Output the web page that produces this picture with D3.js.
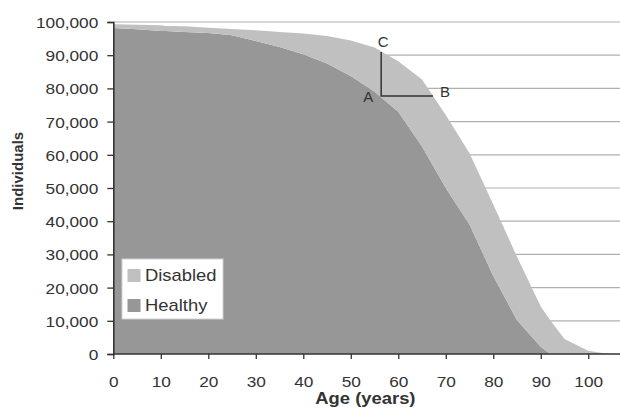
<!DOCTYPE html>
<html>
<head>
<meta charset="utf-8">
<script src="https://cdn.jsdelivr.net/npm/d3@7"></script>
<style>
  body { margin: 0; background: #fff; }
  text { font-family: "Liberation Sans", Arial, sans-serif; fill: #333; }
</style>
</head>
<body>
<div id="chart"></div>
<script>
// values
var ages     = [0, 5, 10, 11, 15, 20, 25, 30, 35, 40, 45, 50, 55, 60, 65, 70, 75, 80, 85, 90, 92, 95, 100, 103, 105];
var healthy  = [98200, 97800, 97300, 97300, 97000, 96700, 96000, 94300, 92500, 90300, 87500, 83700, 79000, 73000, 62500, 50000, 39000, 23500, 10200, 2200, 0, 0, 0, 0, 0];
var disabled = [1100, 1400, 1700, 1500, 1700, 1600, 1900, 3200, 4500, 6200, 8300, 10700, 13300, 15200, 20200, 22000, 21500, 21500, 19100, 12100, 10200, 4500, 1000, 300, 0];
var xTicks = [0, 10, 20, 30, 40, 50, 60, 70, 80, 90, 100];
var yTicks = [0, 10000, 20000, 30000, 40000, 50000, 60000, 70000, 80000, 90000, 100000];
var seriesNames = ['Healthy', 'Disabled'];
var seriesColors = { Healthy: '#979797', Disabled: '#c0c0c0' };
// annotation corner A, top C, right B (age, individuals)
var markA = [56.4, 77700];
var markC = [56.4, 91000];
var markB = [67.3, 77700];

var width = 620;
var height = 408;
var stretch = 1.15;

var xScale = d3.scaleLinear().domain([0, 107]).range([113.3, 621.5]);
var yScale = d3.scaleLinear().domain([0, 100000]).range([354, 22]);

document.addEventListener('DOMContentLoaded', function () {
    var svg = d3.select('#chart')
        .append('svg')
        .attr('width', width)
        .attr('height', height);

    drawGrid(svg);
    drawAreas(svg);
    drawAxes(svg);
    drawMarks(svg);
    drawLegend(svg);
    drawTitles(svg);
});

function drawGrid(svg) {
    svg.append('g')
        .selectAll('line')
        .data(yTicks.slice(1))
        .enter()
        .append('line')
        .attr('x1', xScale(0))
        .attr('x2', width)
        .attr('y1', function (d) { return yScale(d); })
        .attr('y2', function (d) { return yScale(d); })
        .attr('stroke', '#b0b0b0')
        .attr('stroke-width', 1.2);
}

function drawAreas(svg) {
    var rows = ages.map(function (a, i) {
        return { age: a, Healthy: healthy[i], Disabled: disabled[i] };
    });
    var stacked = d3.stack().keys(seriesNames)(rows);

    var area = d3.area()
        .x(function (d) { return xScale(d.data.age); })
        .y0(function (d) { return yScale(d[0]); })
        .y1(function (d) { return yScale(d[1]); });

    svg.append('g')
        .selectAll('path')
        .data(stacked)
        .enter()
        .append('path')
        .attr('d', area)
        .attr('fill', function (d) { return seriesColors[d.key]; });
}

function drawAxes(svg) {
    var xAxis = d3.axisBottom(xScale)
        .tickValues(xTicks)
        .tickSize(5)
        .tickPadding(17)
        .tickFormat(d3.format('d'));
    var yAxis = d3.axisLeft(yScale)
        .tickValues(yTicks)
        .tickSize(6)
        .tickFormat(d3.format(','));

    var gx = svg.append('g')
        .attr('transform', 'translate(0,' + yScale(0) + ')')
        .call(xAxis);
    gx.select('.domain').attr('d', 'M' + xScale(0) + ',0H' + width);

    var gy = svg.append('g')
        .attr('transform', 'translate(' + xScale(0) + ',0)')
        .call(yAxis);

    [gx, gy].forEach(function (g) {
        g.select('.domain').attr('stroke', '#333').attr('stroke-width', 1.6);
        g.selectAll('.tick line').attr('stroke', '#333').attr('stroke-width', 1.3);
        g.selectAll('text')
            .style('font-size', '15px')
            .attr('fill', '#333')
            .style('font-family', '"Liberation Sans", Arial, sans-serif');
    });

    gx.selectAll('.tick text')
        .attr('transform', 'scale(' + stretch + ',1)')
        .attr('x', 0);
    gy.selectAll('.tick text')
        .attr('x', 0)
        .attr('dy', '0.36em')
        .attr('transform', 'translate(-15,0) scale(' + stretch + ',1)');
}

function drawMarks(svg) {
    var g = svg.append('g');
    g.append('path')
        .attr('d', 'M' + xScale(markC[0]) + ',' + yScale(markC[1]) +
                   'V' + yScale(markA[1]) + 'H' + xScale(markB[0]))
        .attr('fill', 'none')
        .attr('stroke', '#333')
        .attr('stroke-width', 1.5);

    var labels = [
        { t: 'C', x: xScale(markC[0]) + 2, y: yScale(markC[1]) - 5 },
        { t: 'A', x: xScale(markA[0]) - 13, y: yScale(markA[1]) + 6 },
        { t: 'B', x: xScale(markB[0]) + 12, y: yScale(markB[1]) + 1 }
    ];
    g.selectAll('text')
        .data(labels)
        .enter()
        .append('text')
        .attr('x', function (d) { return d.x; })
        .attr('y', function (d) { return d.y; })
        .attr('text-anchor', 'middle')
        .style('font-size', '15px')
        .text(function (d) { return d.t; });
}

function drawLegend(svg) {
    var legend = svg.append('g')
        .attr('transform', 'translate(122,259)');

    legend.append('rect')
        .attr('width', 101)
        .attr('height', 60)
        .attr('fill', '#fff')
        .attr('stroke', '#d0d0d0')
        .attr('stroke-width', 1);

    var items = ['Disabled', 'Healthy'];
    items.forEach(function (name, i) {
        legend.append('rect')
            .attr('x', 5.5)
            .attr('y', 10 + i * 30)
            .attr('width', 13)
            .attr('height', 13)
            .attr('fill', seriesColors[name]);
        legend.append('text')
            .attr('transform', 'translate(23,' + (22 + i * 30) + ') scale(' + stretch + ',1)')
            .style('font-size', '16px')
            .text(name);
    });
}

function drawTitles(svg) {
    svg.append('text')
        .attr('transform', 'translate(' + ((xScale(0) + xScale(107)) / 2 - 2) + ',404) scale(' + stretch + ',1)')
        .attr('text-anchor', 'middle')
        .style('font-size', '16px')
        .style('font-weight', 'bold')
        .text('Age (years)');

    svg.append('text')
        .attr('transform', 'translate(23,171) rotate(-90)')
        .attr('text-anchor', 'middle')
        .style('font-size', '15px')
        .style('font-weight', 'bold')
        .text('Individuals');
}
</script>
</body>
</html>
